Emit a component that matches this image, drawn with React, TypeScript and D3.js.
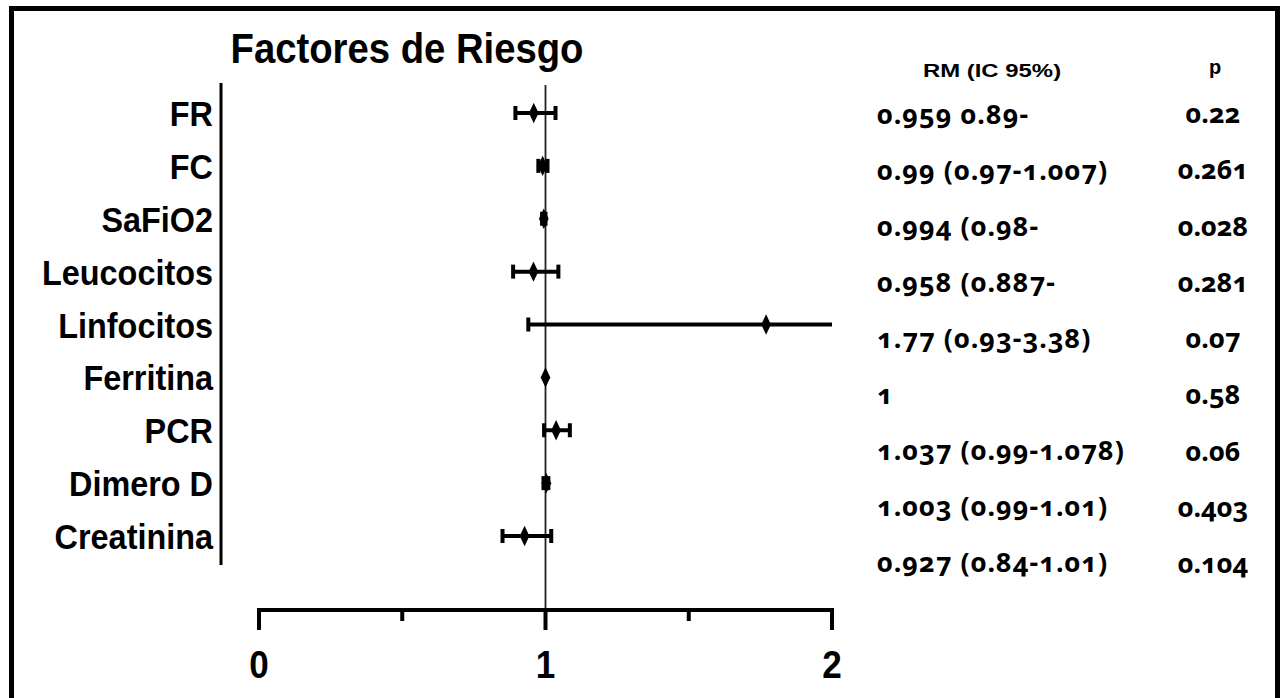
import React from "react";
import * as d3 from "d3";

const categories = ["FR", "FC", "SaFiO2", "Leucocitos", "Linfocitos", "Ferritina", "PCR", "Dimero D", "Creatinina"];
const estimates = [0.959, 0.99, 0.994, 0.958, 1.77, 1.0, 1.037, 1.003, 0.927];
const lowerCI: (number | null)[] = [0.895, 0.975, 0.988, 0.887, 0.94, null, 0.995, 0.993, 0.85];
const upperCI: (number | null)[] = [1.035, 1.007, 1.0, 1.045, 3.38, null, 1.085, 1.01, 1.02];
const rmLabels = [
  "0.959 0.89-",
  "0.99 (0.97-1.007)",
  "0.994 (0.98-",
  "0.958 (0.887-",
  "1.77 (0.93-3.38)",
  "1",
  "1.037 (0.99-1.078)",
  "1.003 (0.99-1.01)",
  "0.927 (0.84-1.01)",
];
const pLabels = ["0.22", "0.261", "0.028", "0.281", "0.07", "0.58", "0.06", "0.403", "0.104"];
const majorTicks = [0, 1, 2];
const minorTicks = [0.5, 1.5];

const W = 1280;
const H = 698;
const SANS = "'Liberation Sans', Arial, sans-serif";
const TABLE_FONT = "'Noto Sans', 'Open Sans', sans-serif";

export default function App() {
  const x = d3.scaleLinear().domain([0, 2]).range([259, 832]);
  const y = d3.scalePoint<string>().domain(categories).range([113, 536]);
  const rmRow = d3.scaleLinear().domain([0, categories.length - 1]).range([124, 572]);
  const pRow = d3.scaleLinear().domain([0, categories.length - 1]).range([123, 573]);
  const axisY = 610;
  const diamond = d3.symbol().type(d3.symbolDiamond).size(100);
  const clip = (v: number) => Math.min(Math.max(v, 0), 2);

  return (
    <svg width={W} height={H} style={{ position: "absolute", left: 0, top: 0, background: "#fff" }}>
      <rect x={11.5} y={8.5} width={1266} height={720} fill="none" stroke="#000" strokeWidth={5} />

      <text transform="translate(407,63) scale(0.89,1)" textAnchor="middle" fontFamily={SANS} fontWeight="bold" fontSize={43} fill="#000">
        Factores de Riesgo
      </text>

      {/* left category axis */}
      <line x1={221} x2={221} y1={83} y2={565} stroke="#000" strokeWidth={3} />
      {categories.map((c) => (
        <text key={c} transform={`translate(213,${(y(c) as number) + 13}) scale(0.9,1)`} textAnchor="end" fontFamily={SANS} fontWeight="bold" fontSize={36} fill="#000">
          {c}
        </text>
      ))}

      {/* reference line at 1 */}
      <line x1={x(1)} x2={x(1)} y1={85} y2={axisY} stroke="#222" strokeWidth={1.8} />

      {/* x axis */}
      <line x1={x(0) - 2} x2={x(2) + 2} y1={axisY} y2={axisY} stroke="#000" strokeWidth={4} />
      {majorTicks.map((t) => (
        <g key={t}>
          <line x1={x(t)} x2={x(t)} y1={axisY} y2={axisY + 20} stroke="#000" strokeWidth={4} />
          <text transform={`translate(${x(t)},${axisY + 68}) scale(0.9,1)`} textAnchor="middle" fontFamily={SANS} fontWeight="bold" fontSize={39} fill="#000">
            {t}
          </text>
        </g>
      ))}
      {minorTicks.map((t) => (
        <line key={t} x1={x(t)} x2={x(t)} y1={axisY} y2={axisY + 11} stroke="#000" strokeWidth={4} />
      ))}

      {/* error bars & points */}
      {categories.map((c, i) => {
        const cy = y(c) as number;
        const lo = lowerCI[i];
        const hi = upperCI[i];
        return (
          <g key={c}>
            {lo !== null && hi !== null && (
              <g>
                <line x1={x(clip(lo))} x2={x(clip(hi))} y1={cy} y2={cy} stroke="#000" strokeWidth={4} />
                {lo >= 0 && <line x1={x(lo)} x2={x(lo)} y1={cy - 7} y2={cy + 7} stroke="#000" strokeWidth={4} />}
                {hi <= 2 && <line x1={x(hi)} x2={x(hi)} y1={cy - 7} y2={cy + 7} stroke="#000" strokeWidth={4} />}
              </g>
            )}
            <path d={diamond() as string} transform={`translate(${x(estimates[i])},${cy}) scale(0.9,1.1)`} fill="#000" />
          </g>
        );
      })}

      {/* table */}
      <text transform="translate(992,77) scale(1.33,1)" textAnchor="middle" fontFamily={SANS} fontWeight="bold" fontSize={18} fill="#000">
        RM (IC 95%)
      </text>
      <text x={1215} y={74} textAnchor="middle" fontFamily={SANS} fontWeight="bold" fontSize={20} fill="#000">
        p
      </text>
      {rmLabels.map((t, i) => (
        <text key={i} x={877} y={rmRow(i)} fontFamily={TABLE_FONT} fontWeight={700} fontSize={27} letterSpacing={1} fill="#000"
          style={{ fontVariantNumeric: "oldstyle-nums" }}>
          {t}
        </text>
      ))}
      {pLabels.map((t, i) => (
        <text key={i} x={1213} y={pRow(i)} textAnchor="middle" fontFamily={TABLE_FONT} fontWeight={700} fontSize={27} fill="#000"
          style={{ fontVariantNumeric: "oldstyle-nums" }}>
          {t}
        </text>
      ))}
    </svg>
  );
}
